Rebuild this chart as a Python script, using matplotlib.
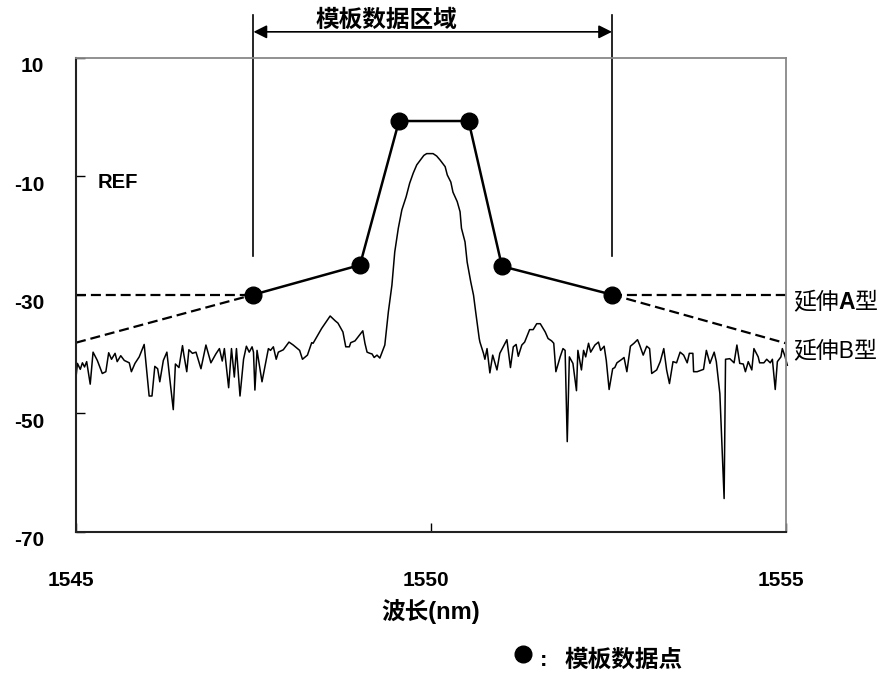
import matplotlib
matplotlib.use("Agg")
import matplotlib.pyplot as plt
import matplotlib.transforms as mtransforms

plt.rcParams['font.family'] = ['Liberation Sans', 'Noto Sans CJK SC']

# measured spectrum (wavelength nm, power dBm)
wavelength = [
    1545.00, 1545.02, 1545.06, 1545.09, 1545.12, 1545.15, 1545.20, 1545.24, 1545.30, 1545.37,
    1545.42, 1545.46, 1545.50, 1545.55, 1545.58, 1545.63, 1545.68, 1545.75, 1545.78, 1545.83,
    1545.89, 1545.96, 1546.03, 1546.07, 1546.11, 1546.15, 1546.18, 1546.23, 1546.28, 1546.32,
    1546.37, 1546.40, 1546.45, 1546.50, 1546.52, 1546.56, 1546.59, 1546.64, 1546.69, 1546.76,
    1546.83, 1546.90, 1546.97, 1547.02, 1547.06, 1547.09, 1547.15, 1547.19, 1547.23, 1547.26,
    1547.31, 1547.36, 1547.40, 1547.44, 1547.48, 1547.50, 1547.52, 1547.55, 1547.62, 1547.71,
    1547.74, 1547.78, 1547.82, 1547.85, 1547.92, 1548.00, 1548.06, 1548.15, 1548.19, 1548.26,
    1548.32, 1548.34, 1548.46, 1548.58, 1548.65, 1548.69, 1548.76, 1548.80, 1548.85, 1548.87,
    1548.93, 1549.04, 1549.07, 1549.10, 1549.14, 1549.17, 1549.20, 1549.24, 1549.28, 1549.35,
    1549.40, 1549.45, 1549.49, 1549.54, 1549.59, 1549.65, 1549.70, 1549.75, 1549.80, 1549.85,
    1549.90, 1549.94, 1550.03, 1550.08, 1550.13, 1550.20, 1550.23, 1550.28, 1550.31, 1550.37,
    1550.41, 1550.43, 1550.48, 1550.51, 1550.56, 1550.60, 1550.63, 1550.68, 1550.69, 1550.74,
    1550.76, 1550.79, 1550.83, 1550.87, 1550.93, 1550.97, 1551.03, 1551.07, 1551.12, 1551.16,
    1551.20, 1551.23, 1551.28, 1551.32, 1551.39, 1551.44, 1551.49, 1551.54, 1551.61, 1551.65,
    1551.70, 1551.73, 1551.76, 1551.82, 1551.86, 1551.89, 1551.92, 1551.95, 1552.00, 1552.05,
    1552.07, 1552.12, 1552.15, 1552.18, 1552.22, 1552.25, 1552.31, 1552.36, 1552.39, 1552.44,
    1552.47, 1552.51, 1552.56, 1552.59, 1552.62, 1552.69, 1552.72, 1552.76, 1552.81, 1552.86,
    1552.91, 1552.94, 1552.99, 1553.04, 1553.08, 1553.11, 1553.18, 1553.23, 1553.28, 1553.32,
    1553.36, 1553.41, 1553.46, 1553.51, 1553.56, 1553.61, 1553.64, 1553.69, 1553.70, 1553.75,
    1553.84, 1553.88, 1553.93, 1553.99, 1554.02, 1554.07, 1554.13, 1554.15, 1554.21, 1554.27,
    1554.31, 1554.35, 1554.40, 1554.43, 1554.47, 1554.52, 1554.55, 1554.61, 1554.63, 1554.69,
    1554.73, 1554.78, 1554.81, 1554.85, 1554.88, 1554.93, 1554.95, 1554.99, 1555.02,
]
power = [
    -43.9, -41.6, -42.6, -41.5, -42.2, -41.3, -45.1, -39.7, -41.1, -43.3,
    -43.0, -39.8, -40.9, -39.9, -41.3, -40.3, -41.1, -41.5, -43.0, -41.6,
    -40.5, -38.4, -47.1, -47.1, -42.1, -42.5, -44.7, -41.1, -39.7, -44.1,
    -49.4, -41.7, -42.3, -38.6, -40.2, -43.0, -39.3, -39.9, -39.7, -42.5,
    -38.5, -41.5, -40.0, -39.1, -41.2, -39.1, -45.7, -39.1, -43.9, -39.1,
    -47.1, -40.9, -38.7, -39.7, -38.8, -39.7, -46.1, -39.4, -44.7, -39.1,
    -39.4, -38.8, -40.9, -39.7, -39.3, -38.0, -38.5, -39.4, -40.9, -40.2,
    -38.1, -38.2, -35.7, -33.6, -34.4, -34.8, -36.3, -38.8, -38.8, -38.1,
    -37.8, -36.1, -38.2, -39.7, -39.9, -40.0, -40.6, -40.2, -40.7, -38.5,
    -32.9, -28.4, -22.8, -18.8, -15.7, -13.5, -11.2, -9.5, -8.1, -7.3,
    -6.5, -6.2, -6.2, -6.6, -7.3, -8.4, -9.8, -11.0, -12.7, -14.3,
    -16.0, -18.8, -21.1, -24.5, -27.8, -30.1, -32.9, -37.4, -38.0, -39.9,
    -40.9, -39.1, -43.2, -40.2, -42.7, -39.9, -38.5, -37.6, -42.3, -38.8,
    -38.4, -40.4, -38.5, -38.0, -35.9, -35.9, -34.9, -34.9, -36.3, -37.4,
    -37.8, -38.2, -43.0, -40.5, -39.1, -39.4, -54.8, -40.5, -41.6, -46.2,
    -39.4, -42.7, -39.4, -40.5, -38.2, -39.7, -38.5, -38.0, -39.4, -38.7,
    -41.1, -46.0, -42.5, -42.3, -41.5, -40.9, -40.6, -43.0, -38.7, -38.2,
    -37.6, -38.5, -40.2, -38.7, -39.1, -43.3, -42.7, -41.3, -39.1, -42.7,
    -45.0, -41.3, -41.5, -39.7, -40.2, -41.5, -39.9, -39.9, -43.0, -43.0,
    -42.6, -39.4, -41.6, -39.7, -41.3, -46.7, -64.4, -40.9, -40.8, -41.5,
    -38.5, -41.6, -41.7, -43.0, -41.3, -42.7, -39.1, -40.5, -41.5, -41.5,
    -40.9, -41.5, -40.9, -46.0, -41.3, -40.5, -39.1, -40.5, -41.9,
]

# template data points
tmpl_x = [1547.5, 1549.0, 1549.55, 1550.53, 1551.0, 1552.55]
tmpl_y = [-30.0, -25.0, -0.7, -0.7, -25.2, -30.0]

# extension lines (type A: flat, type B: sloped)
ext_a_left = ([1545.0, 1547.5], [-30.0, -30.0])
ext_a_right = ([1552.55, 1555.0], [-30.0, -30.0])
ext_b_left = ([1545.0, 1547.5], [-38.1, -30.0])
ext_b_right = ([1552.55, 1555.0], [-30.0, -38.2])

region_left, region_right = 1547.5, 1552.55

fig = plt.figure(figsize=(8.84, 6.77), dpi=100)
ax = fig.add_axes([0.086, 0.2146, 0.803, 0.7003])

ax.plot(wavelength, power, color="black", lw=1.1, clip_on=False)

dash_kw = dict(color="black", lw=1.6, dashes=(4.5, 2.2), clip_on=False)
for xs, ys in (ext_a_left, ext_a_right, ext_b_left, ext_b_right):
    ax.plot(xs, ys, **dash_kw)

ax.plot(tmpl_x, tmpl_y, color="black", lw=1.8, marker="o", markersize=12,
        clip_on=False, zorder=5)

# template data region markers
for xv in (region_left, region_right):
    ax.plot([xv, xv], [17.2, -23.5], color="black", lw=1.2, clip_on=False)
ax.annotate("", xy=(region_left, 14.35), xytext=(region_right, 14.35),
            arrowprops=dict(arrowstyle="<|-|>", color="black", lw=1.2,
                            mutation_scale=20, shrinkA=0, shrinkB=0),
            annotation_clip=False)
ax.text(1549.37, 16.3, "模板数据区域", fontsize=17, fontweight="bold",
        ha="center", va="center")

ax.text(0.03, -11.0, "REF", transform=ax.get_yaxis_transform(),
        fontsize=14.5, fontweight="bold", va="center", ha="left")

# extension labels ("A" drawn bold as in the original)
t1 = ax.text(1555.1, -31.3, "延伸", fontsize=16.5, ha="left", va="center")
t2 = ax.annotate("A", xy=(1, 0), xycoords=t1, fontsize=16.5,
                 fontweight="bold", ha="left", va="bottom")
ax.annotate("型", xy=(1, 0), xycoords=t2, fontsize=16.5, ha="left",
            va="bottom")
ax.text(1555.1, -39.7, "延伸B型", fontsize=16.5, ha="left", va="center")

ax.set_xlim(1545, 1555)
ax.set_ylim(-70, 10)
ax.set_xticks([1545, 1550, 1555])
ax.set_xticklabels(["1545", "1550", "1555"], fontsize=15, fontweight="bold")
ax.set_yticks([10, -10, -30, -50, -70])
ax.set_yticklabels(["10", "-10", "-30", "-50", "-70"], fontsize=15,
                   fontweight="bold")
ax.tick_params(axis="both", direction="in", length=6.5, width=1.0)
ax.tick_params(axis="x", pad=28)
ax.tick_params(axis="y", pad=23)

dy = mtransforms.ScaledTranslation(0, -7 / 100, fig.dpi_scale_trans)
for lab in ax.get_yticklabels():
    lab.set_transform(lab.get_transform() + dy)
dx = mtransforms.ScaledTranslation(-5 / 100, 0, fig.dpi_scale_trans)
for lab in ax.get_xticklabels():
    lab.set_transform(lab.get_transform() + dx)

ax.set_xlabel("波长(nm)", fontsize=17, fontweight="bold", labelpad=7)

for side in ("left", "bottom"):
    ax.spines[side].set_color("#222222")
    ax.spines[side].set_linewidth(1.5)
for side in ("top", "right"):
    ax.spines[side].set_color("#888888")
    ax.spines[side].set_linewidth(1.3)

# legend for template points
fig.add_artist(plt.Line2D([523 / 884], [1 - 654 / 677], marker="o",
                          markersize=12, color="black", linestyle="none",
                          transform=fig.transFigure))
fig.text(540 / 884, 1 - 660 / 677, ":", fontsize=16, fontweight="bold",
         ha="left", va="center")
fig.text(565 / 884, 1 - 660 / 677, "模板数据点", fontsize=17,
         fontweight="bold", ha="left", va="center")

fig.savefig("out.png", dpi=100)
